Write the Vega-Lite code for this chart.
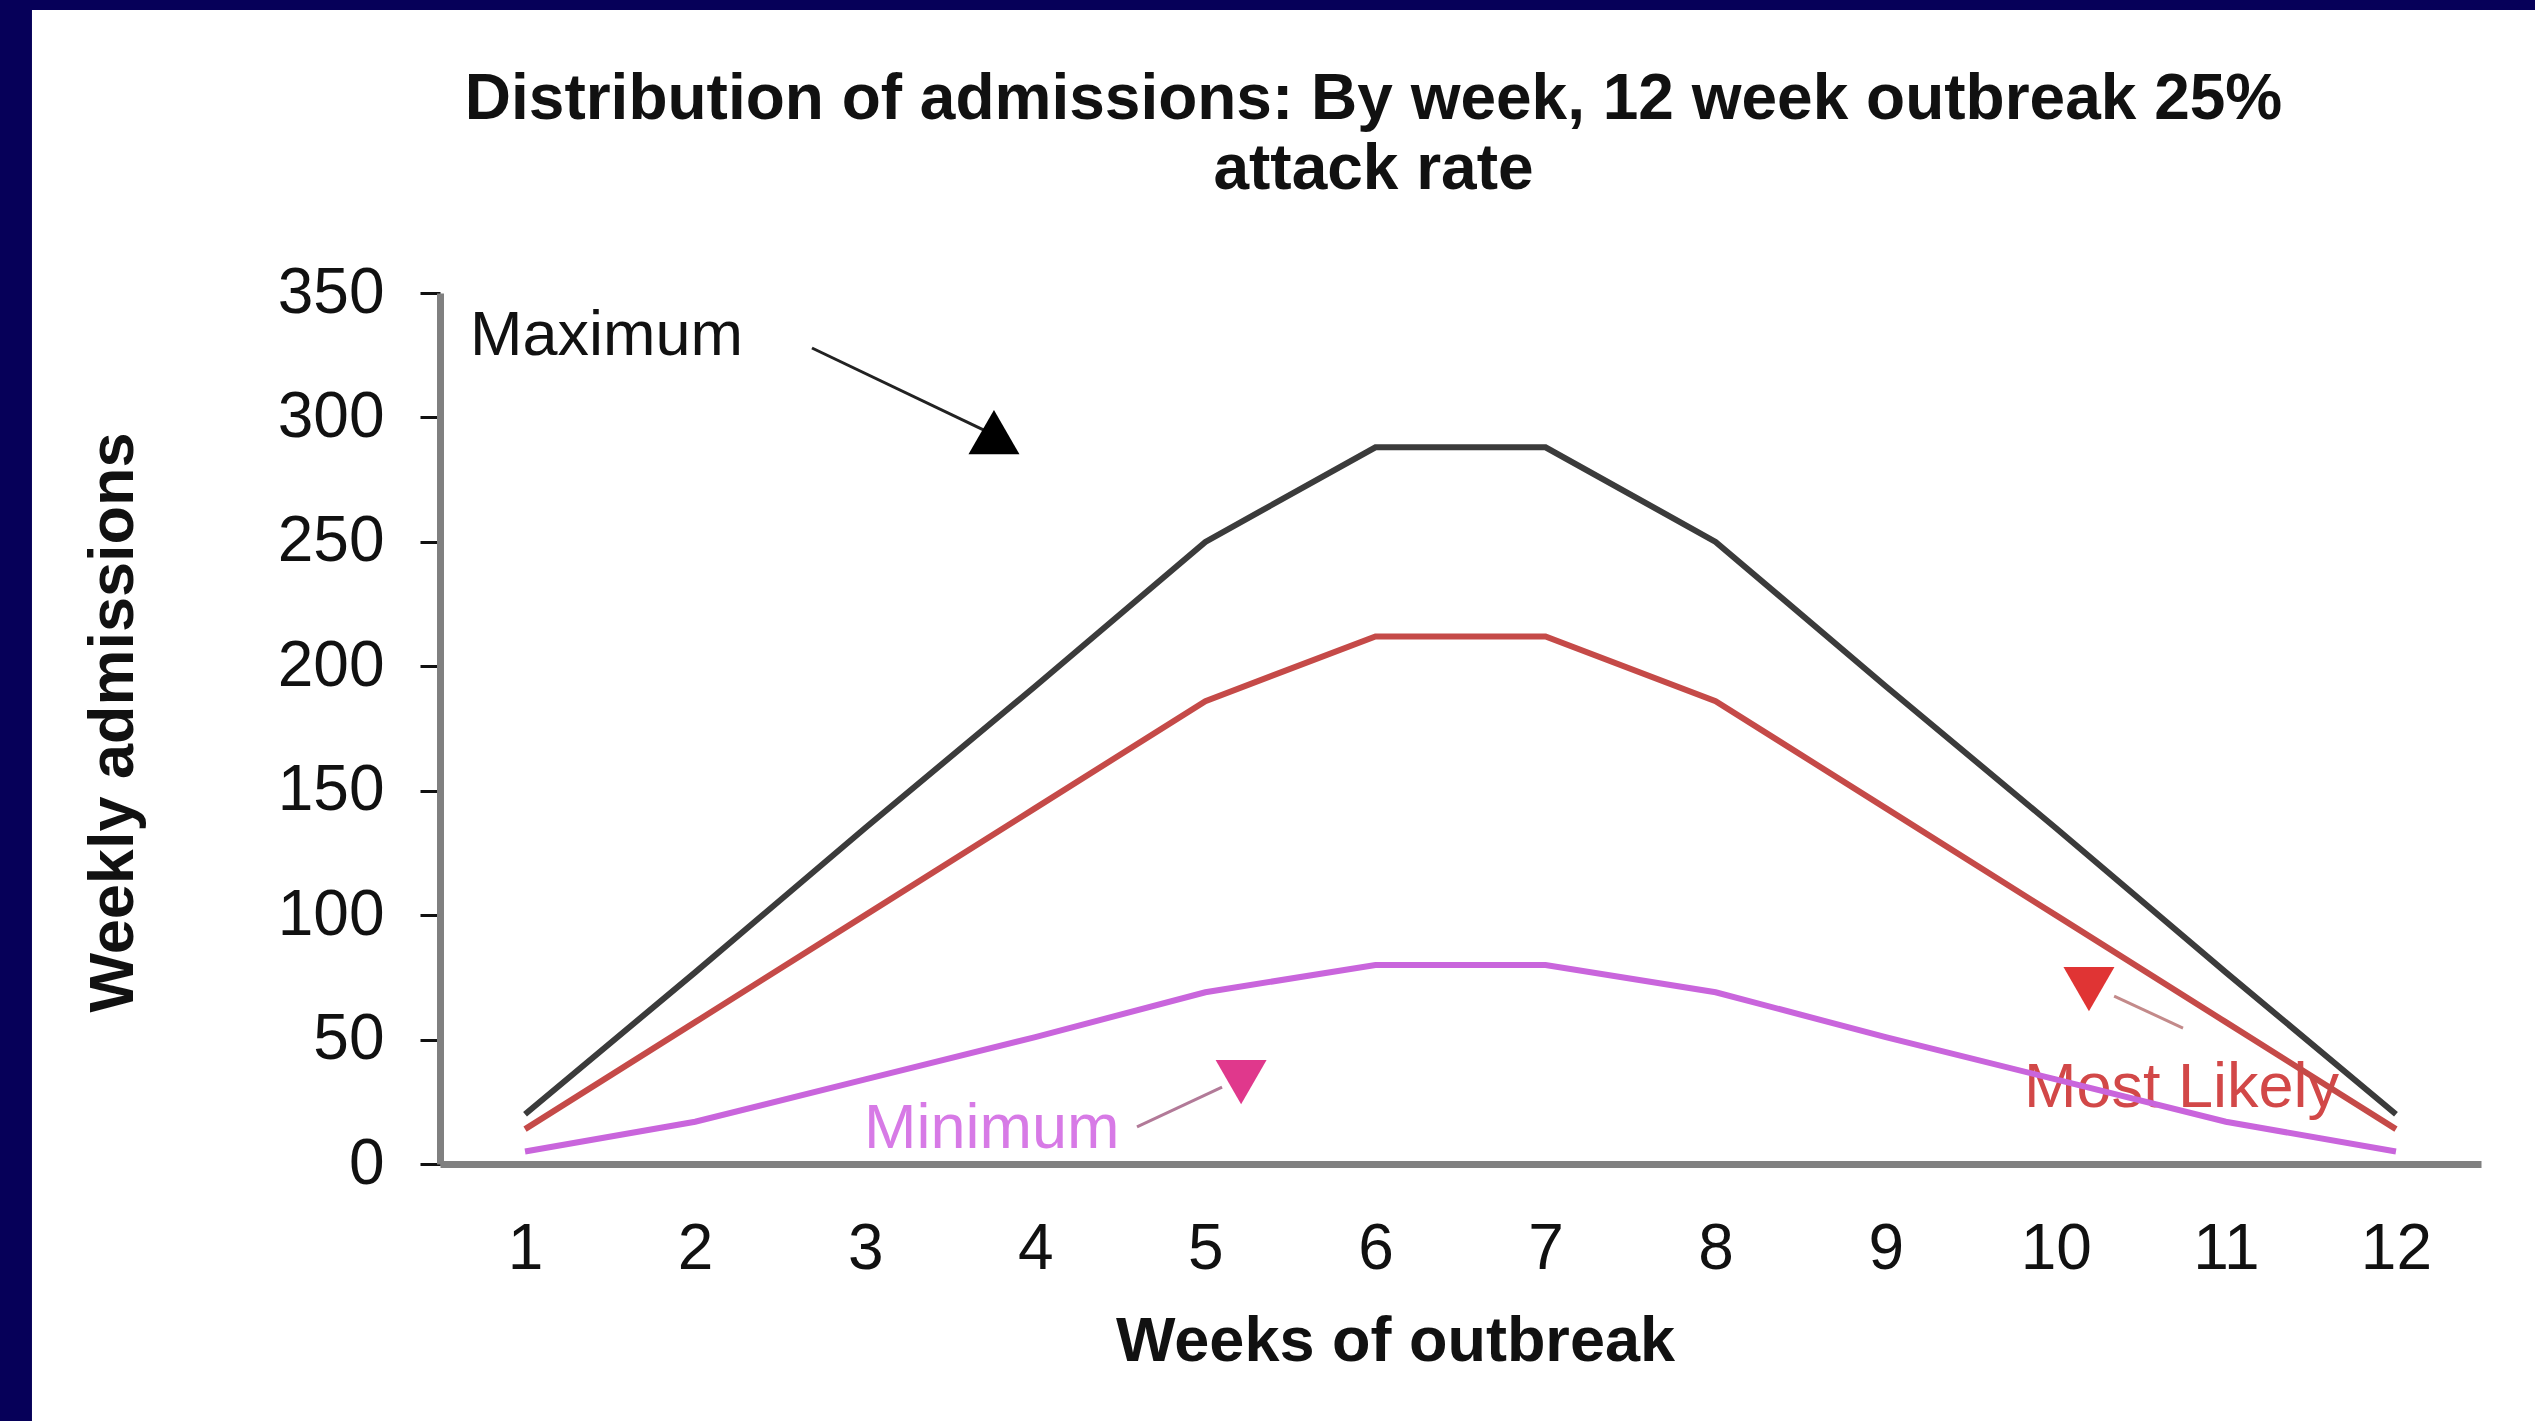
{
  "$schema": "https://vega.github.io/schema/vega-lite/v6.json",
  "autosize": {"type": "none"},
  "width": 2041,
  "height": 871,
  "padding": {"left": 440, "top": 293, "right": 54, "bottom": 257},
  "background": "#060059",
  "title": {
    "text": ["Distribution of admissions: By week, 12 week outbreak 25%", "attack rate"],
    "anchor": "middle",
    "frame": "group",
    "dx": -87,
    "offset": -243,
    "baseline": "alphabetic",
    "font": "Liberation Sans",
    "fontSize": 64,
    "fontWeight": "bold",
    "color": "#111111",
    "lineHeight": 70,
    "zindex": 1
  },
  "datasets": {
    "series": [
      {"week": 1, "series": "Maximum", "admissions": 20},
      {"week": 2, "series": "Maximum", "admissions": 77},
      {"week": 3, "series": "Maximum", "admissions": 135},
      {"week": 4, "series": "Maximum", "admissions": 192},
      {"week": 5, "series": "Maximum", "admissions": 250},
      {"week": 6, "series": "Maximum", "admissions": 288},
      {"week": 7, "series": "Maximum", "admissions": 288},
      {"week": 8, "series": "Maximum", "admissions": 250},
      {"week": 9, "series": "Maximum", "admissions": 192},
      {"week": 10, "series": "Maximum", "admissions": 135},
      {"week": 11, "series": "Maximum", "admissions": 77},
      {"week": 12, "series": "Maximum", "admissions": 20},
      {"week": 1, "series": "Most Likely", "admissions": 14},
      {"week": 2, "series": "Most Likely", "admissions": 57},
      {"week": 3, "series": "Most Likely", "admissions": 100},
      {"week": 4, "series": "Most Likely", "admissions": 143},
      {"week": 5, "series": "Most Likely", "admissions": 186},
      {"week": 6, "series": "Most Likely", "admissions": 212},
      {"week": 7, "series": "Most Likely", "admissions": 212},
      {"week": 8, "series": "Most Likely", "admissions": 186},
      {"week": 9, "series": "Most Likely", "admissions": 143},
      {"week": 10, "series": "Most Likely", "admissions": 100},
      {"week": 11, "series": "Most Likely", "admissions": 57},
      {"week": 12, "series": "Most Likely", "admissions": 14},
      {"week": 1, "series": "Minimum", "admissions": 5},
      {"week": 2, "series": "Minimum", "admissions": 17},
      {"week": 3, "series": "Minimum", "admissions": 34},
      {"week": 4, "series": "Minimum", "admissions": 51},
      {"week": 5, "series": "Minimum", "admissions": 69},
      {"week": 6, "series": "Minimum", "admissions": 80},
      {"week": 7, "series": "Minimum", "admissions": 80},
      {"week": 8, "series": "Minimum", "admissions": 69},
      {"week": 9, "series": "Minimum", "admissions": 51},
      {"week": 10, "series": "Minimum", "admissions": 34},
      {"week": 11, "series": "Minimum", "admissions": 17},
      {"week": 12, "series": "Minimum", "admissions": 5}
    ],
    "notes": [
      {"label": "Maximum", "tx": 0.676, "ty": 325.1, "ax1": 2.687, "ay1": 327.9, "ax2": 3.698, "ay2": 294.9, "hx": 3.757, "hy": 294.1},
      {"label": "Minimum", "tx": 2.993, "ty": 6.4, "ax1": 4.598, "ay1": 14.9, "ax2": 5.098, "ay2": 30.9, "hx": 5.21, "hy": 32.9},
      {"label": "Most Likely", "tx": 9.813, "ty": 22.9, "ax1": 10.748, "ay1": 54.6, "ax2": 10.343, "ay2": 67.5, "hx": 10.195, "hy": 70.3}
    ]
  },
  "layer": [
    {
      "data": {"values": [{}]},
      "mark": {"type": "rect", "color": "#ffffff", "strokeWidth": 0},
      "encoding": {
        "x": {"datum": -1.899, "type": "quantitative"},
        "x2": {"datum": 12.95},
        "y": {"datum": -120, "type": "quantitative"},
        "y2": {"datum": 463.7}
      }
    },
    {
      "data": {"name": "notes"},
      "mark": {"type": "text", "align": "left", "baseline": "alphabetic", "font": "Liberation Sans", "fontSize": 63},
      "encoding": {
        "x": {"field": "tx", "type": "quantitative"},
        "y": {"field": "ty", "type": "quantitative"},
        "text": {"field": "label"},
        "color": {
          "field": "label", "type": "nominal",
          "scale": {"domain": ["Maximum", "Most Likely", "Minimum"], "range": ["#111111", "#d24848", "#d77ae6"]},
          "legend": null
        }
      }
    },
    {
      "data": {"name": "series"},
      "mark": {"type": "line", "strokeWidth": 6, "interpolate": "linear"},
      "encoding": {
        "x": {
          "field": "week", "type": "quantitative",
          "scale": {"domain": [0.5, 12.5], "nice": false, "zero": false},
          "axis": {
            "orient": "bottom", "zindex": 1,
            "values": [1, 2, 3, 4, 5, 6, 7, 8, 9, 10, 11, 12], "format": "d",
            "grid": false, "ticks": false, "tickSize": 0,
            "domainColor": "#808080", "domainWidth": 7,
            "labelFont": "Liberation Sans", "labelFontSize": 64, "labelColor": "#111111", "labelPadding": 53,
            "title": "Weeks of outbreak", "titleFont": "Liberation Sans", "titleFontSize": 63, "titleFontWeight": "bold",
            "titleColor": "#111111", "titleX": 955, "titleY": 196, "titleAlign": "center", "titleBaseline": "alphabetic"
          }
        },
        "y": {
          "field": "admissions", "type": "quantitative",
          "scale": {"domain": [0, 350], "nice": false, "zero": true},
          "axis": {
            "orient": "left", "zindex": 1,
            "values": [0, 50, 100, 150, 200, 250, 300, 350],
            "grid": false, "ticks": true, "tickSize": 20, "tickWidth": 3, "tickColor": "#111111",
            "domainColor": "#808080", "domainWidth": 7,
            "labelFont": "Liberation Sans", "labelFontSize": 64, "labelColor": "#111111", "labelPadding": 36,
            "title": "Weekly admissions", "titleFont": "Liberation Sans", "titleFontSize": 63, "titleFontWeight": "bold",
            "titleColor": "#111111", "titleX": -308, "titleY": 429, "titleAngle": -90, "titleAlign": "center", "titleBaseline": "alphabetic"
          }
        },
        "color": {
          "field": "series", "type": "nominal",
          "scale": {"domain": ["Maximum", "Most Likely", "Minimum"], "range": ["#3b3b3b", "#c54a48", "#c965dc"]},
          "legend": null
        }
      }
    },
    {
      "data": {"name": "notes"},
      "mark": {"type": "rule", "strokeWidth": 3},
      "encoding": {
        "x": {"field": "ax1", "type": "quantitative"},
        "y": {"field": "ay1", "type": "quantitative"},
        "x2": {"field": "ax2"},
        "y2": {"field": "ay2"},
        "color": {
          "field": "label", "type": "nominal",
          "scale": {"domain": ["Maximum", "Most Likely", "Minimum"], "range": ["#222222", "#c38a8a", "#b27a98"]},
          "legend": null
        }
      }
    },
    {
      "data": {"name": "notes"},
      "mark": {"type": "point", "filled": true, "size": 2600, "opacity": 1, "strokeWidth": 0},
      "encoding": {
        "x": {"field": "hx", "type": "quantitative"},
        "y": {"field": "hy", "type": "quantitative"},
        "shape": {
          "field": "label", "type": "nominal",
          "scale": {"domain": ["Maximum", "Most Likely", "Minimum"], "range": ["triangle-up", "triangle-down", "triangle-down"]},
          "legend": null
        },
        "color": {
          "field": "label", "type": "nominal",
          "scale": {"domain": ["Maximum", "Most Likely", "Minimum"], "range": ["#000000", "#e03434", "#e0388c"]},
          "legend": null
        }
      }
    }
  ],
  "resolve": {"scale": {"color": "independent", "shape": "independent"}},
  "config": {
    "font": "Liberation Sans",
    "view": {"stroke": null}
  }
}
